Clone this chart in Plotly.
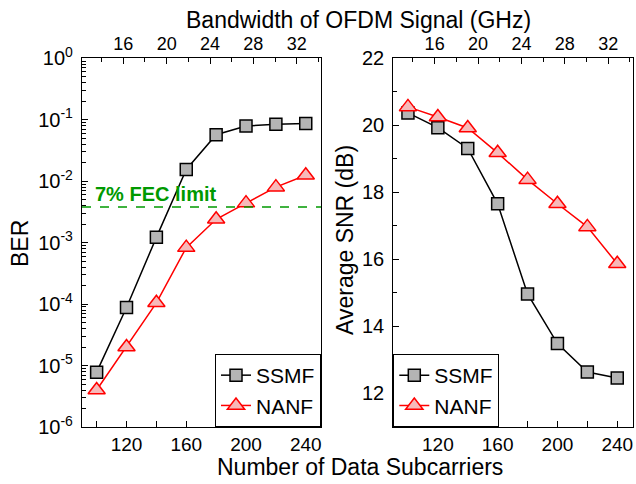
import math
import plotly.graph_objects as go

subcarriers = [100, 120, 140, 160, 180, 200, 220, 240]
ber_ssmf = [7.8e-6, 8.8e-5, 1.22e-3, 1.55e-2, 0.057, 0.079, 0.0845, 0.0865]
ber_nanf = [4.0e-6, 2.0e-5, 1.05e-4, 8.3e-4, 2.4e-3, 4.4e-3, 8.0e-3, 1.25e-2]
snr_ssmf = [20.37, 19.93, 19.31, 17.66, 14.97, 13.49, 12.64, 12.46]
snr_nanf = [20.55, 20.25, 19.92, 19.18, 18.38, 17.66, 16.97, 15.87]
fec_limit = 3.8e-3
fec_label = "7% FEC limit"
bw_ticks = [16, 20, 24, 28, 32]
ber_tickvals = [1e-6, 1e-5, 1e-4, 1e-3, 1e-2, 1e-1, 1e0]
ber_ticktext = ["10<sup>-6</sup>", "10<sup>-5</sup>", "10<sup>-4</sup>", "10<sup>-3</sup>",
                "10<sup>-2</sup>", "10<sup>-1</sup>", "10<sup>0</sup>"]

FONT = "Arial, Liberation Sans, sans-serif"
W, H = 636, 484
dom_y = [1 - 427 / H, 1 - 58.3 / H]
dom_x1 = [82 / W, 321 / W]
dom_x2 = [393.3 / W, 632.5 / W]
x_range = [90.2, 250.2]
bw_range = [12.19, 34.24]

sq = dict(symbol="square", size=12, color="#b4b4b4", line=dict(color="black", width=1.5))
tri = dict(symbol="triangle-up", size=15, color="#f7b9b9", line=dict(color="#ff0000", width=1.5))

fig = go.Figure()
fig.add_trace(go.Scatter(x=subcarriers, y=ber_ssmf, mode="lines+markers", name="SSMF",
                         line=dict(color="black", width=1.5), marker=sq,
                         xaxis="x", yaxis="y", legend="legend"))
fig.add_trace(go.Scatter(x=subcarriers, y=ber_nanf, mode="lines+markers", name="NANF",
                         line=dict(color="#ff0000", width=1.5), marker=tri,
                         xaxis="x", yaxis="y", legend="legend"))
fig.add_trace(go.Scatter(x=subcarriers, y=snr_ssmf, mode="lines+markers", name="SSMF",
                         line=dict(color="black", width=1.5), marker=sq,
                         xaxis="x2", yaxis="y2", legend="legend2"))
fig.add_trace(go.Scatter(x=subcarriers, y=snr_nanf, mode="lines+markers", name="NANF",
                         line=dict(color="#ff0000", width=1.5), marker=tri,
                         xaxis="x2", yaxis="y2", legend="legend2"))
# empty traces to create the top axes
fig.add_trace(go.Scatter(x=[], y=[], xaxis="x3", yaxis="y", showlegend=False, hoverinfo="skip"))
fig.add_trace(go.Scatter(x=[], y=[], xaxis="x4", yaxis="y2", showlegend=False, hoverinfo="skip"))

axcommon = dict(showline=True, linecolor="black", linewidth=1.3, mirror=True, ticks="inside",
                ticklen=6, tickwidth=1.2, tickcolor="black", showgrid=False, zeroline=False,
                automargin=False, ticklabelstandoff=4,
                tickfont=dict(family=FONT, size=20, color="black"))
xextra = {"ticklabelstandoff": 0, "tickfont": dict(family=FONT, size=19, color="black")}
minor_common = dict(ticks="inside", ticklen=3.5, tickwidth=1, tickcolor="black", showgrid=False)
top_extra = {"mirror": False, "ticklabelstandoff": 0,
             "tickfont": dict(family=FONT, size=18, color="black")}

fig.update_layout(
    width=W, height=H, margin=dict(l=0, r=0, t=0, b=0, autoexpand=False),
    paper_bgcolor="white", plot_bgcolor="white",
    font=dict(family=FONT, color="black"),
    xaxis=dict(domain=dom_x1, anchor="y", range=x_range, dtick=40, tick0=0,
               minor=dict(dtick=20, tick0=0, **{**minor_common, "ticklen": 6}), **{**axcommon, **xextra}),
    yaxis=dict(domain=dom_y, anchor="x", type="log", range=[-6, 0], tickvals=ber_tickvals,
               ticktext=ber_ticktext, minor=dict(dtick="D1", **minor_common), **axcommon),
    xaxis2=dict(domain=dom_x2, anchor="y2", range=x_range, dtick=40, tick0=0,
                minor=dict(dtick=20, tick0=0, **{**minor_common, "ticklen": 6}), **{**axcommon, **xextra}),
    yaxis2=dict(domain=dom_y, anchor="x2", range=[11, 22], dtick=2, tick0=0,
                minor=dict(dtick=1, tick0=0, **minor_common), **axcommon),
    xaxis3=dict(overlaying="x", side="top", anchor="y", range=bw_range, tickvals=bw_ticks,
                minor=dict(dtick=2, tick0=0, **{**minor_common, "ticklen": 4}),
                **{**axcommon, **top_extra}),
    xaxis4=dict(overlaying="x2", side="top", anchor="y2", range=bw_range, tickvals=bw_ticks,
                minor=dict(dtick=2, tick0=0, **{**minor_common, "ticklen": 4}),
                **{**axcommon, **top_extra}),
    legend=dict(x=321 / W, xanchor="right", y=dom_y[0], yanchor="bottom",
                bordercolor="black", borderwidth=1, bgcolor="white",
                font=dict(family=FONT, size=21, color="black"), tracegroupgap=0),
    legend2=dict(x=dom_x2[0], xanchor="left", y=dom_y[0], yanchor="bottom",
                 bordercolor="black", borderwidth=1, bgcolor="white",
                 font=dict(family=FONT, size=21, color="black"), tracegroupgap=0),
    showlegend=True,
)

fig.add_shape(type="line", xref="x domain", yref="y", x0=0, x1=1, y0=fec_limit, y1=fec_limit,
              line=dict(color="#009900", width=1.5, dash="dash"))
fig.add_annotation(text="<b>" + fec_label + "</b>", xref="x", yref="y", x=97.5, y=math.log10(fec_limit),
                   xanchor="left", yanchor="bottom", showarrow=False, yshift=0,
                   font=dict(family=FONT, size=20, color="#009900"))

title_font = dict(family=FONT, size=23, color="black")
fig.add_annotation(text="Bandwidth of OFDM Signal (GHz)", xref="paper", yref="paper",
                   x=358 / W, y=1 - 20 / H, xanchor="center", yanchor="middle",
                   showarrow=False, font=title_font)
fig.add_annotation(text="Number of Data Subcarriers", xref="paper", yref="paper",
                   x=360 / W, y=1 - 467 / H, xanchor="center", yanchor="middle",
                   showarrow=False, font=title_font)
fig.add_annotation(text="BER", xref="paper", yref="paper", x=20 / W, y=1 - 244 / H,
                   xanchor="center", yanchor="middle",
                   showarrow=False, textangle=-90, font=title_font)
fig.add_annotation(text="Average SNR (dB)", xref="paper", yref="paper", x=345 / W, y=1 - 240 / H,
                   xanchor="center", yanchor="middle",
                   showarrow=False, textangle=-90, font=title_font)

fig.write_html("out.html")
